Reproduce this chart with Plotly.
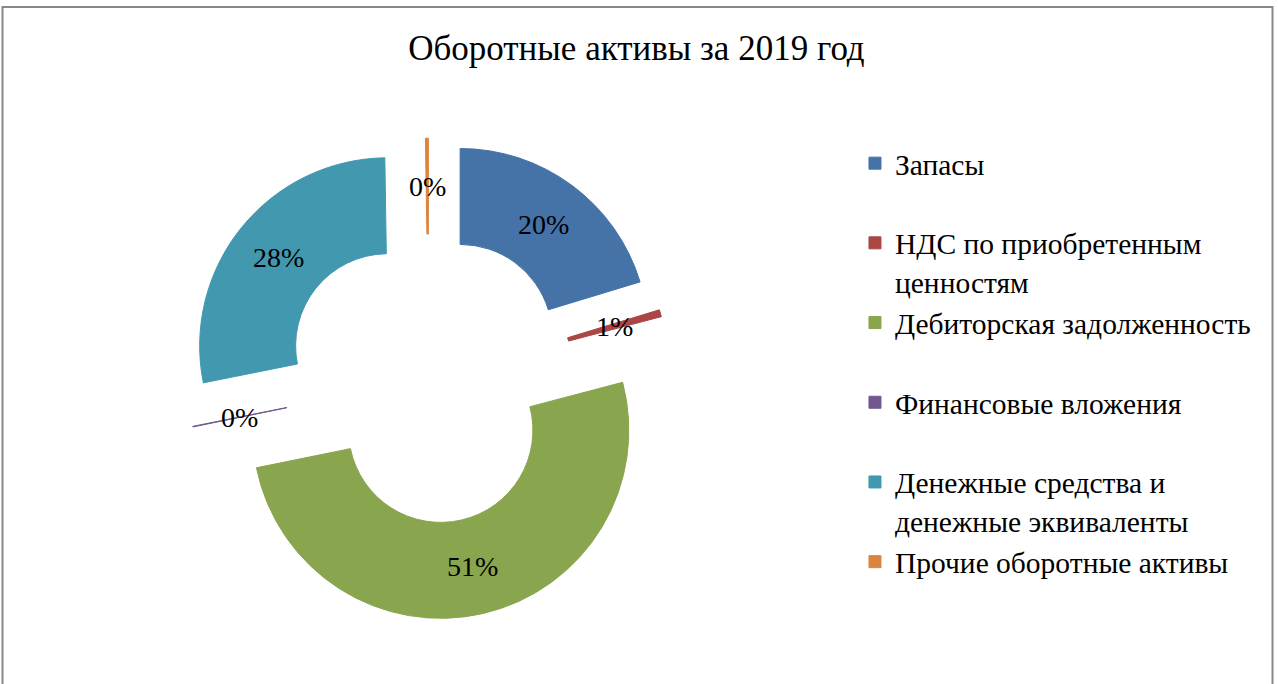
import math
import plotly.graph_objects as go

# Current assets structure, 2019 (share of total, %)
categories = [
    "Запасы",
    "НДС по приобретенным ценностям",
    "Дебиторская задолженность",
    "Финансовые вложения",
    "Денежные средства и денежные эквиваленты",
    "Прочие оборотные активы",
]
shares = [20.3, 0.6, 50.9, 0.05, 27.9, 0.25]
legend_names = [
    "Запасы<br> ",
    "НДС по приобретенным<br>ценностям",
    "Дебиторская задолженность<br> ",
    "Финансовые вложения<br> ",
    "Денежные средства и<br>денежные эквиваленты",
    "Прочие оборотные активы<br> ",
]
colors = ["#4572A7", "#AA4643", "#89A54E", "#71588F", "#4198AF", "#DB843D"]

FONT = "Liberation Serif, Times New Roman, serif"
W, H = 1278, 684
HOLE = 0.49
PULL = 0.28
DOM_X = [0.132, 0.539]
DOM_Y = [0.094, 0.798]
SMALL = 2.0  # slices below this share get their label placed at mid-ring

total = sum(shares)
pct_text = [f"{round(v / total * 100)}%" for v in shares]
inside_text = ["" if v < SMALL else t for v, t in zip(shares, pct_text)]

fig = go.Figure(
    go.Pie(
        labels=legend_names,
        values=shares,
        customdata=categories,
        sort=False,
        direction="clockwise",
        rotation=0,
        hole=HOLE,
        pull=[PULL] * len(shares),
        marker=dict(colors=colors, line=dict(color=colors, width=1)),
        text=inside_text,
        textinfo="text",
        textposition="inside",
        insidetextorientation="horizontal",
        textfont=dict(family=FONT, size=28, color="black"),
        hovertemplate="%{customdata}: %{percent}<extra></extra>",
        domain=dict(x=DOM_X, y=DOM_Y),
    )
)

# Labels of the thin slices: centred on the ring middle of each exploded slice
dom_w = (DOM_X[1] - DOM_X[0]) * W
dom_h = (DOM_Y[1] - DOM_Y[0]) * H
r = min(dom_w, dom_h) / 2 / (1 + PULL)
cx = (DOM_X[0] + DOM_X[1]) / 2 * W
cy = (1 - (DOM_Y[0] + DOM_Y[1]) / 2) * H
r_mid = r * (HOLE + (1 - HOLE) / 2)

annotations = []
cum = 0.0
for v, t in zip(shares, pct_text):
    mid = (cum + v / 2) / total * 2 * math.pi
    cum += v
    if v >= SMALL:
        continue
    dx, dy = math.sin(mid), -math.cos(mid)
    px = cx + (PULL * r + r_mid) * dx
    py = cy + (PULL * r + r_mid) * dy
    annotations.append(
        dict(
            x=px / W,
            y=1 - py / H,
            xref="paper",
            yref="paper",
            text=t,
            showarrow=False,
            xanchor="center",
            yanchor="middle",
            font=dict(family=FONT, size=28, color="black"),
        )
    )

fig.update_layout(
    width=W,
    height=H,
    margin=dict(l=0, r=0, t=0, b=0),
    paper_bgcolor="white",
    plot_bgcolor="white",
    font=dict(family=FONT, color="black"),
    title=dict(
        text="Оборотные активы за 2019 год",
        x=0.498,
        xanchor="center",
        y=0.93,
        yanchor="middle",
        font=dict(family=FONT, size=35, color="black"),
    ),
    legend=dict(
        x=0.669,
        xanchor="left",
        y=0.799,
        yanchor="top",
        valign="top",
        font=dict(family=FONT, size=29.5, color="black"),
        bgcolor="rgba(0,0,0,0)",
        traceorder="normal",
    ),
    annotations=annotations,
    shapes=[
        dict(
            type="rect",
            xref="paper",
            yref="paper",
            x0=2.5 / W,
            x1=1272.5 / W,
            y0=-0.05,
            y1=1 - 7 / H,
            line=dict(color="#878787", width=2),
            fillcolor="rgba(0,0,0,0)",
            layer="below",
        )
    ],
)

fig.write_html("out.html")
